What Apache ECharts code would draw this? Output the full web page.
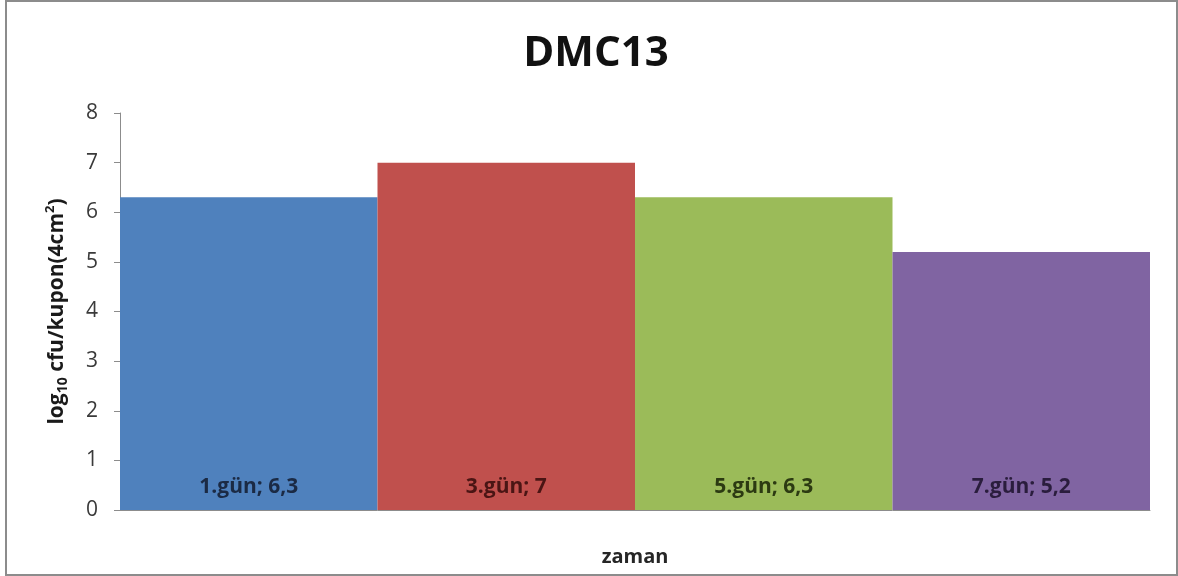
<!DOCTYPE html>
<html>
<head>
<meta charset="utf-8">
<script src="https://cdn.jsdelivr.net/npm/echarts@6/dist/echarts.min.js"></script>
<style>
  html, body { margin: 0; padding: 0; background: #ffffff; }
  #frame {
    position: absolute; left: 5px; top: 0px; width: 1169px; height: 572px;
    border: 2px solid #8c8c8c; box-sizing: content-box; background: #fff;
  }
  #chart { position: absolute; left: -7px; top: -2px; width: 1178px; height: 576px; }
</style>
</head>
<body>
<div id="frame"><div id="chart"></div></div>
<script>
// Day labels and measured log10 counts per coupon
const days = ['1.gün', '3.gün', '5.gün', '7.gün'];
const logCounts = [6.3, 7, 6.3, 5.2];
const barColors = ['#4f81bd', '#c0504d', '#9bbb59', '#8064a2'];
const labelColors = ['#1b2a44', '#4a1514', '#2c3a12', '#2a1d3d'];
const yTicks = [0, 1, 2, 3, 4, 5, 6, 7, 8];

const font = '"Open Sans", "DejaVu Sans", sans-serif';

const chart = echarts.init(document.getElementById('chart'));
chart.setOption({
  animation: false,
  backgroundColor: 'transparent',
  title: {
    text: 'DMC13',
    left: 591, top: 28, textAlign: 'center',
    textStyle: { fontFamily: font, fontWeight: 'bold', fontSize: 42, color: '#111111' }
  },
  grid: { left: 120, right: 28, top: 113, bottom: 66 },
  xAxis: {
    type: 'category',
    data: days,
    name: 'zaman',
    nameLocation: 'middle',
    nameGap: 37,
    nameTextStyle: { fontFamily: font, fontWeight: 'bold', fontSize: 20, color: '#262626' },
    axisLine: { show: true, lineStyle: { color: '#8c8c8c', width: 1 } },
    axisTick: { show: false },
    axisLabel: { show: false }
  },
  yAxis: {
    type: 'value',
    min: yTicks[0], max: yTicks[yTicks.length - 1], interval: 1,
    name: '{m|log}{s|10}{m| cfu/kupon(4cm}{p|2}{m|)}',
    nameLocation: 'middle',
    nameGap: 50,
    nameRotate: 90,
    nameTextStyle: {
      rich: {
        m: { fontFamily: font, fontWeight: 'bold', fontSize: 21, color: '#1a1a1a', lineHeight: 26 },
        s: { fontFamily: font, fontWeight: 'bold', fontSize: 14, color: '#1a1a1a', lineHeight: 26, verticalAlign: 'bottom', padding: [7, 0, 0, 0] },
        p: { fontFamily: font, fontWeight: 'bold', fontSize: 13, color: '#1a1a1a', lineHeight: 26, verticalAlign: 'top', padding: [0, 0, 10, 0] }
      }
    },
    axisLine: { show: true, lineStyle: { color: '#8c8c8c', width: 1 } },
    axisTick: { show: true, inside: false, length: 6, lineStyle: { color: '#8c8c8c' } },
    splitLine: { show: false },
    axisLabel: {
      fontFamily: font, fontSize: 21, color: '#3a3a3a', margin: 22,
      formatter: v => String(v)
    }
  },
  series: [{
    type: 'bar',
    barCategoryGap: '0%',
    data: logCounts.map((v, i) => ({
      value: v,
      itemStyle: { color: barColors[i] },
      label: { color: labelColors[i] }
    })),
    label: {
      show: true,
      position: 'insideBottom',
      distance: 12,
      fontFamily: font, fontWeight: 'bold', fontSize: 21,
      formatter: p => p.name + '; ' + String(p.value).replace('.', ',')
    }
  }]
});
</script>
</body>
</html>
